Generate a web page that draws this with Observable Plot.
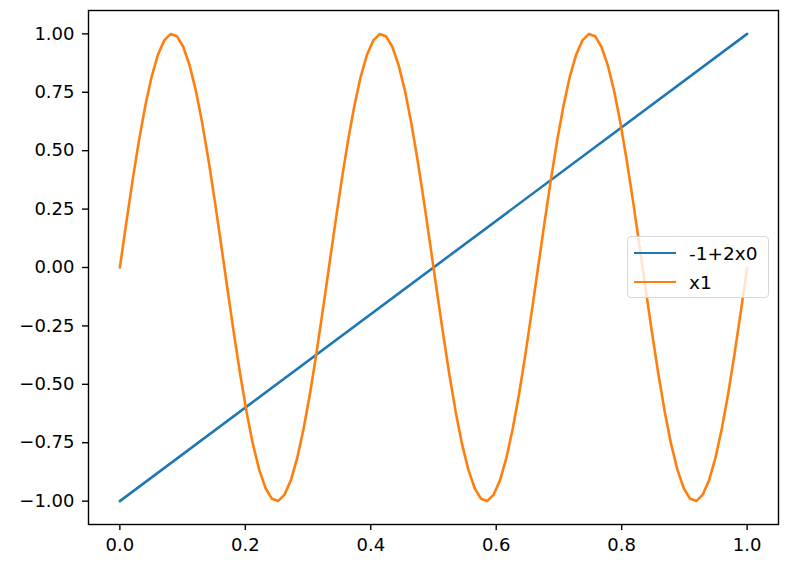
<!DOCTYPE html>
<html>
<head>
<meta charset="utf-8">
<script src="https://cdn.jsdelivr.net/npm/d3@7"></script>
<script src="https://cdn.jsdelivr.net/npm/@observablehq/plot@0.6"></script>
<style>
  html, body { margin: 0; padding: 0; background: #fff; }
  #wrap { position: relative; width: 800px; height: 564px; font-family: 'DejaVu Sans', sans-serif; }
  #wrap svg, #wrap svg text { font-family: 'DejaVu Sans', sans-serif !important; }
  #legend { position: absolute; left: 627px; top: 236px; width: 142px; height: 62px;
    border: 1px solid #d8d8d8; border-radius: 4px; background: rgba(255,255,255,0.8);
    box-sizing: border-box; font-size: 18.5px; color: #000; font-family: 'DejaVu Sans', sans-serif; }
  .row { position: absolute; left: 6px; height: 24px; display: flex; align-items: center; white-space: nowrap; }
  .sw { width: 42px; height: 2.6px; margin-right: 13px; }
</style>
</head>
<body>
<div id="wrap"></div>
<script>
const seriesNames = ["-1+2x0", "x1"];
const seriesColors = ["#1f77b4", "#ff7f0e"];

const lineX = [0, 1];
const lineY = [-1, 1];

const waveX = [0,0.0101,0.0202,0.0303,0.0404,0.0505,0.0606,0.0707,0.0808,0.0909,
0.1010,0.1111,0.1212,0.1313,0.1414,0.1515,0.1616,0.1717,0.1818,0.1919,
0.2020,0.2121,0.2222,0.2323,0.2424,0.2525,0.2626,0.2727,0.2828,0.2929,
0.3030,0.3131,0.3232,0.3333,0.3434,0.3535,0.3636,0.3737,0.3838,0.3939,
0.4040,0.4141,0.4242,0.4343,0.4444,0.4545,0.4646,0.4747,0.4848,0.4949,
0.5051,0.5152,0.5253,0.5354,0.5455,0.5556,0.5657,0.5758,0.5859,0.5960,
0.6061,0.6162,0.6263,0.6364,0.6465,0.6566,0.6667,0.6768,0.6869,0.6970,
0.7071,0.7172,0.7273,0.7374,0.7475,0.7576,0.7677,0.7778,0.7879,0.7980,
0.8081,0.8182,0.8283,0.8384,0.8485,0.8586,0.8687,0.8788,0.8889,0.8990,
0.9091,0.9192,0.9293,0.9394,0.9495,0.9596,0.9697,0.9798,0.9899,1.0000];

const waveY = [0,0.189,0.372,0.541,0.690,0.815,0.910,0.972,0.999,0.990,
0.945,0.866,0.756,0.618,0.458,0.282,0.095,-0.095,-0.282,-0.458,
-0.618,-0.756,-0.866,-0.945,-0.990,-0.999,-0.972,-0.910,-0.815,-0.690,
-0.541,-0.372,-0.189,
0,0.189,0.372,0.541,0.690,0.815,0.910,0.972,0.999,0.990,
0.945,0.866,0.756,0.618,0.458,0.282,0.095,-0.095,-0.282,-0.458,
-0.618,-0.756,-0.866,-0.945,-0.990,-0.999,-0.972,-0.910,-0.815,-0.690,
-0.541,-0.372,-0.189,
0,0.189,0.372,0.541,0.690,0.815,0.910,0.972,0.999,0.990,
0.945,0.866,0.756,0.618,0.458,0.282,0.095,-0.095,-0.282,-0.458,
-0.618,-0.756,-0.866,-0.945,-0.990,-0.999,-0.972,-0.910,-0.815,-0.690,
-0.541,-0.372,-0.189,0];

const xTicks = [0, 0.2, 0.4, 0.6, 0.8, 1.0];
const yTicks = [-1, -0.75, -0.5, -0.25, 0, 0.25, 0.5, 0.75, 1];

const lineData = lineX.map((x, i) => ({x, y: lineY[i]}));
const waveData = waveX.map((x, i) => ({x, y: waveY[i]}));

const chart = Plot.plot({
  width: 800,
  height: 564,
  marginLeft: 88,
  marginRight: 22,
  marginTop: 10,
  marginBottom: 40,
  style: { fontFamily: "'DejaVu Sans', sans-serif", fontSize: "18px", color: "#000", background: "#fff" },
  x: { domain: [-0.05, 1.05] },
  y: { domain: [-1.1, 1.1] },
  marks: [
    Plot.line(lineData, { x: "x", y: "y", stroke: seriesColors[0], strokeWidth: 2.6 }),
    Plot.line(waveData, { x: "x", y: "y", stroke: seriesColors[1], strokeWidth: 2.6 }),
    Plot.axisX({ ticks: xTicks, tickFormat: d3.format(".1f"), tickSize: 6, tickPadding: 8,
      label: null, fontSize: 18, fontFamily: "'DejaVu Sans', sans-serif", strokeWidth: 1.4 }),
    Plot.axisY({ ticks: yTicks, tickFormat: d3.format(".2f"), tickSize: 6, tickPadding: 8,
      label: null, fontSize: 18, fontFamily: "'DejaVu Sans', sans-serif", strokeWidth: 1.4 }),
    Plot.frame({ stroke: "#000", strokeWidth: 1.4 })
  ]
});

const wrap = document.getElementById("wrap");
wrap.appendChild(chart);

const legend = document.createElement("div");
legend.id = "legend";
seriesNames.forEach((name, i) => {
  const row = document.createElement("div");
  row.className = "row";
  row.style.top = (4 + i * 29) + "px";
  const sw = document.createElement("div");
  sw.className = "sw";
  sw.style.background = seriesColors[i];
  const t = document.createElement("span");
  t.textContent = name;
  row.appendChild(sw);
  row.appendChild(t);
  legend.appendChild(row);
});
wrap.appendChild(legend);
</script>
</body>
</html>
